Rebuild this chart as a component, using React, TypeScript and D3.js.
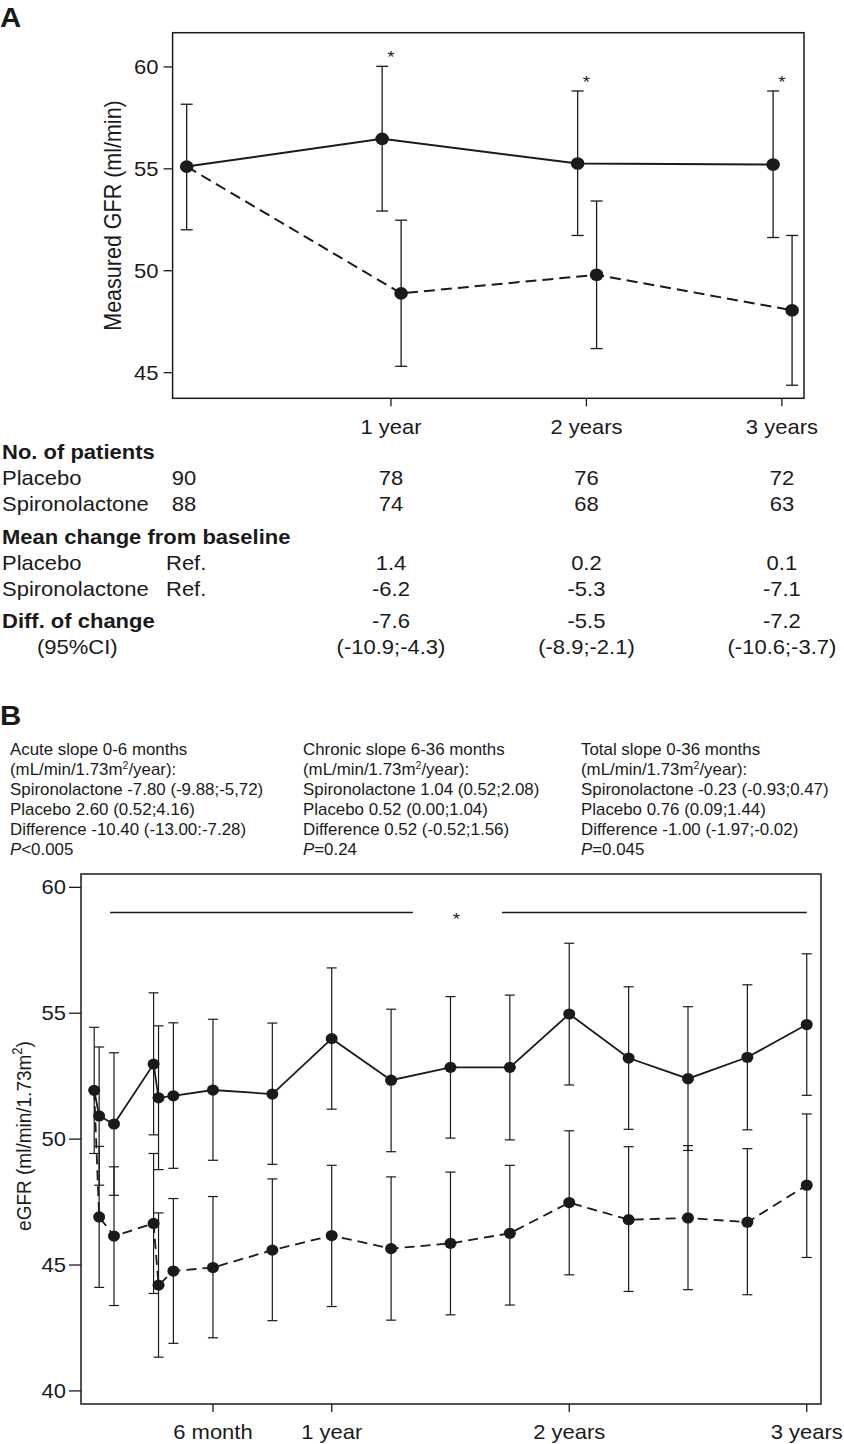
import React from 'react';
import * as d3 from 'd3';

const W = 844;
const H = 1444;
const FONT = "'Liberation Sans', Arial, Helvetica, sans-serif";
const INK = '#1a1a1a';
const SX = 1.1; // horizontal stretch of the reference lettering

// ---------- Panel A data ----------
const yearsA = [0, 1, 2, 3];
const xTickYearsA = [1, 2, 3];
const xTickLabelsA = ['1 year', '2 years', '3 years'];
const yTicksA = [45, 50, 55, 60];
const placeboA = [55.11, 56.47, 55.26, 55.21];
const placeboAHi = [58.17, 60.03, 58.82, 58.82];
const placeboALo = [52.01, 52.93, 51.73, 51.63];
const spiroA = [55.11, 48.89, 49.8, 48.06];
const spiroAHi: (number | null)[] = [null, 52.48, 53.42, 51.73];
const spiroALo: (number | null)[] = [null, 45.31, 46.18, 44.38];
const sigA = [false, true, true, true];

// ---------- Table data ----------
const nPlacebo = ['90', '78', '76', '72'];
const nSpiro = ['88', '74', '68', '63'];
const chgPlacebo = ['Ref.', '1.4', '0.2', '0.1'];
const chgSpiro = ['Ref.', '-6.2', '-5.3', '-7.1'];
const diffChange = ['-7.6', '-5.5', '-7.2'];
const diffCI = ['(-10.9;-4.3)', '(-8.9;-2.1)', '(-10.6;-3.7)'];

// ---------- Panel B data ----------
const monthsB = [0, 0.25, 1, 3, 3.25, 4, 6, 9, 12, 15, 18, 21, 24, 27, 30, 33, 36];
const placeboB = [51.94, 50.92, 50.6, 52.98, 51.64, 51.72, 51.95, 51.79, 53.99, 52.34, 52.85, 52.85, 54.97, 53.22, 52.4, 53.25, 54.55];
const placeboBHi = [54.44, 53.66, 53.43, 55.81, 54.5, 54.62, 54.76, 54.61, 56.8, 55.16, 55.66, 55.72, 57.78, 56.05, 55.26, 56.13, 57.36];
const placeboBLo = [49.43, 48.17, 47.77, 50.17, 48.79, 48.84, 49.16, 49.0, 51.19, 49.5, 50.04, 49.97, 52.15, 50.39, 49.55, 50.37, 51.74];
const spiroB = [51.94, 46.91, 46.15, 46.65, 44.2, 44.76, 44.9, 45.59, 46.17, 45.65, 45.86, 46.26, 47.48, 46.8, 46.87, 46.7, 48.17];
const spiroBHi: (number | null)[] = [null, 49.71, 48.9, 49.43, 47.07, 47.64, 47.72, 48.42, 48.96, 48.5, 48.69, 48.96, 50.33, 49.7, 49.74, 49.62, 51.0];
const spiroBLo: (number | null)[] = [null, 44.11, 43.39, 43.87, 41.34, 41.89, 42.11, 42.79, 43.35, 42.81, 43.02, 43.41, 44.61, 43.95, 44.02, 43.82, 45.3];
const xTickMonthsB = [6, 12, 24, 36];
const xTickLabelsB = ['6 month', '1 year', '2 years', '3 years'];
const yTicksB = [40, 45, 50, 55, 60];
const sigBarB = { from: 0.8, gapFrom: 16.1, gapTo: 20.6, to: 36, value: 59.0, star: 18.3 };

const slopeTitles = ['Acute slope 0-6 months', 'Chronic slope 6-36 months', 'Total slope 0-36 months'];
const slopeSpiro = ['-7.80 (-9.88;-5,72)', '1.04 (0.52;2.08)', '-0.23 (-0.93;0.47)'];
const slopePlacebo = ['2.60 (0.52;4.16)', '0.52 (0.00;1.04)', '0.76 (0.09;1.44)'];
const slopeDiff = ['-10.40 (-13.00:-7.28)', '0.52 (-0.52;1.56)', '-1.00 (-1.97;-0.02)'];
const slopeP = ['<0.005', '=0.24', '=0.045'];

// ---------- Scales ----------
const boxA = { x0: 172.6, x1: 804, y0: 32.7, y1: 398.3 };
const xA = d3.scaleLinear().domain([-0.117, 3.113]).range([boxA.x0, boxA.x1]);
const yA = d3.scaleLinear().domain([43.74, 61.68]).range([boxA.y1, boxA.y0]);
const dodgeSolid = -0.045;
const dodgeDash = 0.052;

const boxB = { x0: 81, x1: 821, y0: 874, y1: 1404 };
const xB = d3.scaleLinear().domain([-0.667, 36.72]).range([boxB.x0, boxB.x1]);
const yB = d3.scaleLinear().domain([39.48, 60.53]).range([boxB.y1, boxB.y0]);

type TProps = {
  x: number;
  y: number;
  size: number;
  anchor?: 'start' | 'middle' | 'end';
  bold?: boolean;
  sx?: number;
  children: React.ReactNode;
};
function T({ x, y, size, anchor = 'start', bold = false, sx = SX, children }: TProps) {
  return (
    <text
      transform={`translate(${x},${y}) scale(${sx},1)`}
      fontSize={size}
      textAnchor={anchor}
      fontWeight={bold ? 'bold' : 'normal'}
      fill={INK}
    >
      {children}
    </text>
  );
}

function ErrBar({ x, lo, hi, y, cap, sw }: { x: number; lo: number; hi: number; y: (v: number) => number; cap: number; sw: number }) {
  return (
    <g stroke={INK} strokeWidth={sw} fill="none">
      <line x1={x} x2={x} y1={y(lo)} y2={y(hi)} />
      <line x1={x - cap / 2} x2={x + cap / 2} y1={y(lo)} y2={y(lo)} />
      <line x1={x - cap / 2} x2={x + cap / 2} y1={y(hi)} y2={y(hi)} />
    </g>
  );
}

export default function App() {
  const line = d3.line<[number, number]>();
  const solidA = line(yearsA.map((t, i) => [xA(t + dodgeSolid), yA(placeboA[i])] as [number, number]));
  const dashA = line(
    yearsA.map((t, i) => [xA(i === 0 ? t + dodgeSolid : t + dodgeDash), yA(spiroA[i])] as [number, number])
  );
  const solidB = line(monthsB.map((t, i) => [xB(t), yB(placeboB[i])] as [number, number]));
  const dashB = line(monthsB.map((t, i) => [xB(t), yB(spiroB[i])] as [number, number]));

  const tableRowY = [458.7, 484.7, 511, 543.7, 570.3, 596.3, 627.7, 654.3];
  const slopeColX = [10, 303, 581];
  const slopeRowY = [755, 775, 795, 815, 835, 855];
  const SSX = 1.055;

  return (
    <svg width={W} height={H} style={{ position: 'absolute', left: 0, top: 0, display: 'block', background: '#fff' }} fontFamily={FONT}>
      <rect x={0} y={0} width={W} height={H} fill="#fff" />
      {/* ---------- Panel A ---------- */}
      <T x={0} y={27} size={28} bold sx={1.05}>A</T>
      <rect x={boxA.x0} y={boxA.y0} width={boxA.x1 - boxA.x0} height={boxA.y1 - boxA.y0} fill="none" stroke={INK} strokeWidth={1.5} />
      {yTicksA.map((v) => (
        <g key={'ya' + v}>
          <line x1={boxA.x0 - 9} x2={boxA.x0} y1={yA(v)} y2={yA(v)} stroke={INK} strokeWidth={1.3} />
          <T x={boxA.x0 - 14} y={yA(v) + 7} size={20} anchor="end">{v}</T>
        </g>
      ))}
      {xTickYearsA.map((t, i) => (
        <g key={'xa' + t}>
          <line x1={xA(t)} x2={xA(t)} y1={boxA.y1} y2={boxA.y1 + 8} stroke={INK} strokeWidth={1.3} />
          <T x={xA(t)} y={433.5} size={20} anchor="middle">{xTickLabelsA[i]}</T>
        </g>
      ))}
      <text transform={`translate(121,${(boxA.y0 + boxA.y1) / 2}) rotate(-90) scale(1,1.1)`} fontSize={21.5} textAnchor="middle" fill={INK}>
        Measured GFR (ml/min)
      </text>
      {yearsA.map((t, i) => (
        <ErrBar key={'eas' + i} x={xA(t + dodgeSolid)} lo={placeboALo[i]} hi={placeboAHi[i]} y={yA} cap={12} sw={1.3} />
      ))}
      {yearsA.map((t, i) =>
        spiroAHi[i] != null ? (
          <ErrBar key={'ead' + i} x={xA(t + dodgeDash)} lo={spiroALo[i] as number} hi={spiroAHi[i] as number} y={yA} cap={12} sw={1.3} />
        ) : null
      )}
      <path d={solidA || ''} fill="none" stroke={INK} strokeWidth={2} />
      <path d={dashA || ''} fill="none" stroke={INK} strokeWidth={2} strokeDasharray="11,6" />
      {yearsA.map((t, i) => (
        <ellipse key={'pas' + i} cx={xA(t + dodgeSolid)} cy={yA(placeboA[i])} rx={6.8} ry={6.3} fill={INK} />
      ))}
      {yearsA.map((t, i) =>
        i > 0 ? <ellipse key={'pad' + i} cx={xA(t + dodgeDash)} cy={yA(spiroA[i])} rx={6.8} ry={6.3} fill={INK} /> : null
      )}
      {yearsA.map((t, i) =>
        sigA[i] ? (
          <T key={'sa' + i} x={xA(t)} y={yA(placeboAHi[i]) - 3} size={17} anchor="middle">*</T>
        ) : null
      )}

      {/* ---------- Table ---------- */}
      <T x={2} y={tableRowY[0]} size={20} bold>No. of patients</T>
      <T x={2} y={tableRowY[1]} size={20}>Placebo</T>
      <T x={2} y={tableRowY[2]} size={20}>Spironolactone</T>
      <T x={2} y={tableRowY[3]} size={20} bold>Mean change from baseline</T>
      <T x={2} y={tableRowY[4]} size={20}>Placebo</T>
      <T x={2} y={tableRowY[5]} size={20}>Spironolactone</T>
      <T x={2} y={tableRowY[6]} size={20} bold>Diff. of change</T>
      <T x={37} y={tableRowY[7]} size={20}>(95%CI)</T>
      {nPlacebo.map((s, i) => (
        <T key={'np' + i} x={i === 0 ? 184 : xA(yearsA[i])} y={tableRowY[1]} size={20} anchor="middle">{s}</T>
      ))}
      {nSpiro.map((s, i) => (
        <T key={'ns' + i} x={i === 0 ? 184 : xA(yearsA[i])} y={tableRowY[2]} size={20} anchor="middle">{s}</T>
      ))}
      {chgPlacebo.map((s, i) => (
        <T key={'cp' + i} x={i === 0 ? 166 : xA(yearsA[i])} y={tableRowY[4]} size={20} anchor={i === 0 ? 'start' : 'middle'}>{s}</T>
      ))}
      {chgSpiro.map((s, i) => (
        <T key={'cs' + i} x={i === 0 ? 166 : xA(yearsA[i])} y={tableRowY[5]} size={20} anchor={i === 0 ? 'start' : 'middle'}>{s}</T>
      ))}
      {diffChange.map((s, i) => (
        <T key={'dc' + i} x={xA(xTickYearsA[i])} y={tableRowY[6]} size={20} anchor="middle">{s}</T>
      ))}
      {diffCI.map((s, i) => (
        <T key={'di' + i} x={xA(xTickYearsA[i])} y={tableRowY[7]} size={20} anchor="middle">{s}</T>
      ))}

      {/* ---------- Panel B ---------- */}
      <T x={0} y={725} size={28} bold sx={1.05}>B</T>
      {slopeTitles.map((s, i) => (
        <g key={'sl' + i}>
          <T x={slopeColX[i]} y={slopeRowY[0]} size={16} sx={SSX}>{s}</T>
          <T x={slopeColX[i]} y={slopeRowY[1]} size={16} sx={SSX}>
            (mL/min/1.73m<tspan fontSize={10} dy={-6}>2</tspan><tspan dy={6}>/year):</tspan>
          </T>
          <T x={slopeColX[i]} y={slopeRowY[2]} size={16} sx={SSX}>{'Spironolactone ' + slopeSpiro[i]}</T>
          <T x={slopeColX[i]} y={slopeRowY[3]} size={16} sx={SSX}>{'Placebo ' + slopePlacebo[i]}</T>
          <T x={slopeColX[i]} y={slopeRowY[4]} size={16} sx={SSX}>{'Difference ' + slopeDiff[i]}</T>
          <T x={slopeColX[i]} y={slopeRowY[5]} size={16} sx={SSX}>
            <tspan fontStyle="italic">P</tspan>
            {slopeP[i]}
          </T>
        </g>
      ))}
      <rect x={boxB.x0} y={boxB.y0} width={boxB.x1 - boxB.x0} height={boxB.y1 - boxB.y0} fill="none" stroke={INK} strokeWidth={1.5} />
      {yTicksB.map((v) => (
        <g key={'yb' + v}>
          <line x1={boxB.x0 - 12} x2={boxB.x0} y1={yB(v)} y2={yB(v)} stroke={INK} strokeWidth={1.3} />
          <T x={boxB.x0 - 15} y={yB(v) + 7} size={20} anchor="end">{v}</T>
        </g>
      ))}
      {xTickMonthsB.map((t, i) => (
        <g key={'xb' + t}>
          <line x1={xB(t)} x2={xB(t)} y1={boxB.y1} y2={boxB.y1 + 8} stroke={INK} strokeWidth={1.3} />
          <T x={xB(t)} y={1439} size={20} anchor="middle">{xTickLabelsB[i]}</T>
        </g>
      ))}
      <text transform={`translate(31,1136) rotate(-90) scale(1,1.1)`} fontSize={19} textAnchor="middle" fill={INK}>
        eGFR (ml/min/1.73m<tspan fontSize={13} dy={-8}>2</tspan><tspan dy={8}>)</tspan>
      </text>
      <g stroke={INK} strokeWidth={1.3}>
        <line x1={xB(sigBarB.from)} x2={xB(sigBarB.gapFrom)} y1={yB(sigBarB.value)} y2={yB(sigBarB.value)} />
        <line x1={xB(sigBarB.gapTo)} x2={xB(sigBarB.to)} y1={yB(sigBarB.value)} y2={yB(sigBarB.value)} />
      </g>
      <T x={xB(sigBarB.star)} y={yB(sigBarB.value) + 12} size={17} anchor="middle">*</T>
      {monthsB.map((t, i) => (
        <ErrBar key={'ebs' + i} x={xB(t)} lo={placeboBLo[i]} hi={placeboBHi[i]} y={yB} cap={10} sw={1.2} />
      ))}
      {monthsB.map((t, i) =>
        spiroBHi[i] != null ? (
          <ErrBar key={'ebd' + i} x={xB(t)} lo={spiroBLo[i] as number} hi={spiroBHi[i] as number} y={yB} cap={10} sw={1.2} />
        ) : null
      )}
      <path d={solidB || ''} fill="none" stroke={INK} strokeWidth={1.8} />
      <path d={dashB || ''} fill="none" stroke={INK} strokeWidth={1.8} strokeDasharray="10,6" />
      {monthsB.map((t, i) => (
        <ellipse key={'pbs' + i} cx={xB(t)} cy={yB(placeboB[i])} rx={6} ry={5.6} fill={INK} />
      ))}
      {monthsB.map((t, i) =>
        i > 0 ? <ellipse key={'pbd' + i} cx={xB(t)} cy={yB(spiroB[i])} rx={6} ry={5.6} fill={INK} /> : null
      )}
    </svg>
  );
}
